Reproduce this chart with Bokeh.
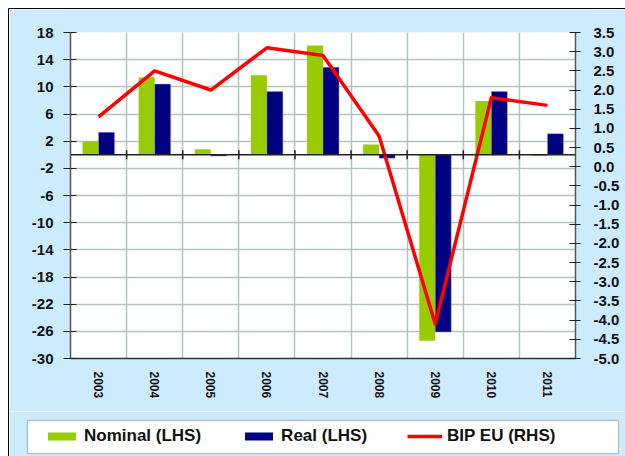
import math
from bokeh.plotting import figure
from bokeh.layouts import column
from bokeh.models import (Range1d, LinearAxis, FixedTicker, PrintfTickFormatter,
                          Legend, LegendItem, FactorRange, Span, ColumnDataSource,
                          BoxAnnotation)
from bokeh.transform import dodge
from bokeh.embed import file_html
from bokeh.resources import INLINE

years = ["2003", "2004", "2005", "2006", "2007", "2008", "2009", "2010", "2011"]
nominal = [2.0, 11.4, 0.8, 11.7, 16.1, 1.5, -27.4, 7.9, -0.2]
real = [3.3, 10.4, -0.2, 9.3, 12.9, -0.5, -26.1, 9.3, 3.1]
bip_eu = [1.3, 2.5, 2.0, 3.1, 2.9, 0.8, -4.1, 1.8, 1.6]
series_labels = ["Nominal (LHS)", "Real (LHS)", "BIP EU (RHS)"]

left_ticks = [-30, -26, -22, -18, -14, -10, -6, -2, 2, 6, 10, 14, 18]
right_ticks = [-5.0, -4.5, -4.0, -3.5, -3.0, -2.5, -2.0, -1.5, -1.0, -0.5,
               0.0, 0.5, 1.0, 1.5, 2.0, 2.5, 3.0, 3.5]

FONT = "Liberation Sans"
BG = "#CCEBFD"
GRID = "#B3C4BD"
C_NOM = "#99CC00"
C_REAL = "#000080"
C_LINE = "#FF0000"

W = 616
H1 = 402
H2 = 45

src = ColumnDataSource(dict(years=years, nominal=nominal, real=real, bip=bip_eu))

p = figure(width=W, height=H1,
           x_range=FactorRange(*years, range_padding=0, factor_padding=0),
           y_range=Range1d(-30, 18),
           output_backend="svg", toolbar_location=None,
           min_border_left=61, min_border_right=50, min_border_top=23, min_border_bottom=53,
           background_fill_color="white", border_fill_color=BG,
           outline_line_color=None, frame_align=False)

p.extra_y_ranges = {"rhs": Range1d(-5, 3.5)}

bw = 0.285
p.vbar(x=dodge("years", -bw / 2, range=p.x_range), top="nominal", bottom=0,
       width=bw, source=src, fill_color=C_NOM, line_color=None)
p.vbar(x=dodge("years", bw / 2, range=p.x_range), top="real", bottom=0,
       width=bw, source=src, fill_color=C_REAL, line_color="#9999CC", line_width=0.5)

zero = Span(location=0, dimension="width", line_color="#222222", line_width=1.5)
p.add_layout(zero)

boundaries = list(range(1, len(years)))
p.scatter(x=boundaries, y=[0] * len(boundaries), marker="dash", angle=math.pi / 2,
          size=9, line_color="#222222", line_width=1.5)

p.line(x="years", y="bip", source=src, y_range_name="rhs",
       line_color=C_LINE, line_width=3.5, line_join="round")

# grids
p.ygrid.ticker = FixedTicker(ticks=left_ticks)
p.ygrid.grid_line_color = GRID
p.ygrid.grid_line_width = 1.5
p.xgrid.ticker = FixedTicker(ticks=boundaries)
p.xgrid.grid_line_color = GRID
p.xgrid.grid_line_width = 1.5

# left axis
ya = p.yaxis[0]
ya.ticker = FixedTicker(ticks=left_ticks)
ya.formatter = PrintfTickFormatter(format="%d")
ya.major_label_text_font = FONT
ya.major_label_text_font_style = "bold"
ya.major_label_text_font_size = "15px"
ya.major_label_text_color = "#111111"
ya.axis_line_color = "#555555"
ya.axis_line_width = 1.5
ya.major_tick_line_color = "#222222"
ya.major_tick_in = 6
ya.major_tick_out = 7
ya.minor_tick_line_color = None
ya.major_label_standoff = 10

# right axis
ra = LinearAxis(y_range_name="rhs", ticker=FixedTicker(ticks=right_ticks),
                formatter=PrintfTickFormatter(format="%.1f"))
ra.major_label_text_font = FONT
ra.major_label_text_font_style = "bold"
ra.major_label_text_font_size = "15px"
ra.major_label_text_color = "#111111"
ra.axis_line_color = "#555555"
ra.axis_line_width = 1.5
ra.major_tick_line_color = "#222222"
ra.major_tick_in = 6
ra.major_tick_out = 5
ra.minor_tick_line_color = None
ra.major_label_standoff = 13
p.add_layout(ra, "right")

# bottom axis
xa = p.xaxis[0]
xa.major_label_orientation = "vertical"
xa.major_label_text_font = FONT
xa.major_label_text_font_style = "bold"
xa.major_label_text_font_size = "12px"
xa.major_label_text_color = "#111111"
xa.major_tick_line_color = None
xa.major_tick_out = 6
xa.axis_line_color = "#333333"
xa.axis_line_width = 1.5
xa.major_label_standoff = 7

# legend strip (pixel-unit coordinates)
q = figure(width=W, height=H2, x_range=Range1d(0, W), y_range=Range1d(0, H2),
           output_backend="svg", toolbar_location=None, min_border=0,
           x_axis_location=None, y_axis_location=None,
           background_fill_color=BG, border_fill_color=BG, outline_line_color=None,
           frame_align=False)
q.grid.visible = False

box = BoxAnnotation(left=18, right=609, bottom=3, top=36, fill_color="white",
                    fill_alpha=1, line_color="#555555", line_width=1.5)
q.add_layout(box)

swatch = ColumnDataSource(dict(x=[0], y=[0]))
g1 = q.vbar(x="x", top="y", width=1, source=swatch, fill_color=C_NOM, line_color=None,
            visible=False)
g2 = q.vbar(x="x", top="y", width=1, source=swatch, fill_color=C_REAL, line_color=None,
            visible=False)
g3 = q.line(x="x", y="y", source=swatch, line_color=C_LINE, line_width=3.5,
            visible=False)

legend = Legend(items=[LegendItem(label=series_labels[0], renderers=[g1]),
                       LegendItem(label=series_labels[1], renderers=[g2]),
                       LegendItem(label=series_labels[2], renderers=[g3])],
                orientation="horizontal", location=(35, 10), margin=0,
                padding=0, spacing=40, label_standoff=5,
                glyph_width=35, glyph_height=10,
                label_text_font=FONT, label_text_font_style="bold",
                label_text_font_size="17px", label_text_color="#111111",
                border_line_color=None, background_fill_alpha=0,
                inactive_fill_alpha=0)
q.add_layout(legend, "center")

layout = column(p, q, spacing=0, margin=(8, 0, 0, 8),
                styles={"border-left": "1px solid #000000", "border-top": "1px solid #000000"})

open("out.html", "w").write(file_html(layout, INLINE))
